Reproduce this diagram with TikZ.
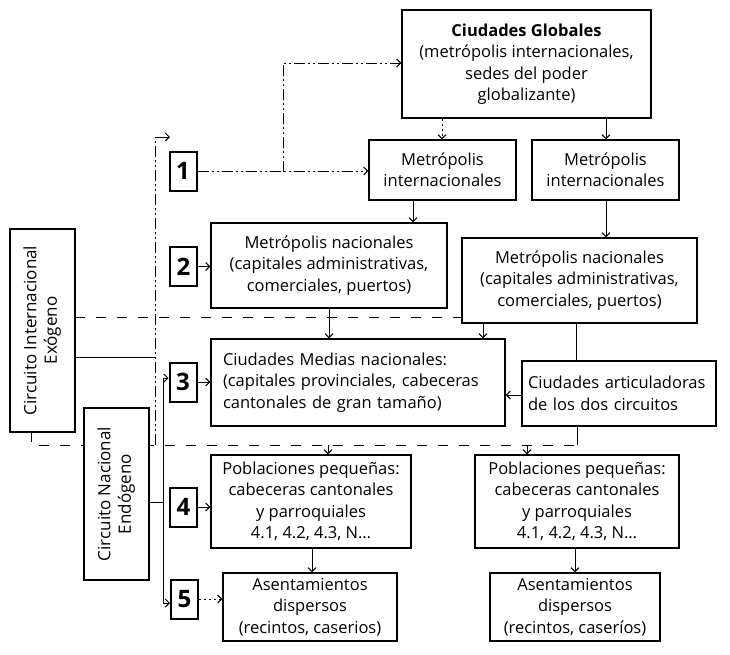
\documentclass[tikz,border=0pt]{standalone}
\usepackage{fontspec}
\setmainfont{Open Sans}
\usetikzlibrary{arrows.meta}
\begin{document}
\begin{tikzpicture}[x=1pt,y=-1pt,
  box/.style={draw, line width=1.3pt, fill=white, inner sep=0pt, align=center,
    font=\fontsize{16.5}{21.5}\selectfont},
  lbox/.style={box, align=left},
  vbox/.style={box, font=\fontsize{17}{20.5}\selectfont},
  numbox/.style={draw, line width=2pt, fill=white, inner sep=0pt,
    font=\fontsize{24}{24}\selectfont\bfseries, minimum width=27pt, minimum height=39pt},
  conn/.style={line width=1pt},
  arr/.style={conn, -{Straight Barb[length=4pt,width=8pt]}},
  dd/.style={dash pattern=on 11pt off 3pt on 2pt off 3pt on 2pt off 3pt},
  dsh/.style={dash pattern=on 10pt off 11pt},
  dot/.style={dash pattern=on 2pt off 3pt}
]
\useasboundingbox (0,0) rectangle (730,654);

% ---------- helper coordinates ----------
\coordinate (vtop) at (155,137);
\coordinate (vtopend) at (170,137);
\coordinate (vbot) at (155,445);
\coordinate (branch) at (283,172);
\coordinate (bend) at (283,63);
\coordinate (caR) at (577,445);
\coordinate (j357) at (155,357);
\coordinate (j502) at (163,502);

% ---------- background connectors (behind boxes) ----------
\draw[conn, dd] (vbot) -- (vtop);
\draw[arr] (vtop) -- (vtopend);
\draw[conn, dsh] (31,432) -- (31,445) -- (caR);
\draw[conn] (caR) -- (577,426);
\draw[conn, dsh] (75,317) -- (462,317);

% ---------- boxes ----------
\node[box, minimum width=249pt, minimum height=108pt] (glob) at (526.5,64)
  {\textbf{Ciudades Globales}\\(metrópolis internacionales,\\sedes del poder\\globalizante)};
\node[box, minimum width=147pt, minimum height=60pt] (mi1) at (442.5,170)
  {Metrópolis\\internacionales};
\node[box, minimum width=147pt, minimum height=60pt] (mi2) at (605.5,170)
  {Metrópolis\\internacionales};
\node[box, minimum width=236pt, minimum height=85pt] (mn1) at (329,265.5)
  {Metrópolis nacionales\\(capitales administrativas,\\comerciales, puertos)};
\node[box, minimum width=235pt, minimum height=85pt] (mn2) at (579.5,280.5)
  {Metrópolis nacionales\\(capitales administrativas,\\comerciales, puertos)};
\node[lbox, minimum width=294pt, minimum height=87pt, text width=270pt] (cm) at (358,382.5)
  {Ciudades Medias nacionales:\\(capitales provinciales, cabeceras\\cantonales de gran tamaño)};
\node[lbox, minimum width=194pt, minimum height=65pt, text width=182pt] (ca) at (619,393.5)
  {Ciudades articuladoras\\de los dos circuitos};
\node[box, minimum width=200pt, minimum height=93pt] (p1) at (311,501.5)
  {Poblaciones pequeñas:\\cabeceras cantonales\\y parroquiales\\4.1, 4.2, 4.3, N\dots};
\node[box, minimum width=204pt, minimum height=93pt] (p2) at (577,501.5)
  {Poblaciones pequeñas:\\cabeceras cantonales\\y parroquiales\\4.1, 4.2, 4.3, N\dots};
\node[box, minimum width=174pt, minimum height=68pt] (a1) at (310,607)
  {Asentamientos\\dispersos\\(recintos, caserios)};
\node[box, minimum width=170pt, minimum height=68pt] (a2) at (575,607)
  {Asentamientos\\dispersos\\(recintos, caseríos)};

\node[vbox, minimum width=65pt, minimum height=203pt] (cie) at (42.5,330.5)
  {\rotatebox{90}{\begin{tabular}{@{}c@{}}Circuito Internacional\\Exógeno\end{tabular}}};
\node[vbox, minimum width=65pt, minimum height=172pt] (cne) at (116.5,494)
  {\rotatebox{90}{\begin{tabular}{@{}c@{}}Circuito Nacional\\Endógeno\end{tabular}}};

\node[numbox] (b1) at (183,171) {1};
\node[numbox] (b2) at (183.5,266.5) {2};
\node[numbox] (b3) at (183,382) {3};
\node[numbox] (b4) at (183.5,507) {4};
\node[numbox] (b5) at (184.5,599) {5};

% ---------- connectors ----------
\draw[arr, dd] (b1.east) -- (mi1.west |- b1.east);
\draw[arr, dd] (branch) -- (bend) -- (glob.west |- bend);
\draw[arr, dot] (glob.south -| 442,0) -- (mi1.north -| 442,0);
\draw[arr] (glob.south -| 606,0) -- (mi2.north -| 606,0);
\draw[arr] (mi1.south -| 413,0) -- (mn1.north -| 413,0);
\draw[arr] (mi2.south -| 606,0) -- (mn2.north -| 606,0);
\draw[arr] (b2.east) -- (mn1.west |- b2.east);
\draw[arr] (mn1.south -| 329,0) -- (cm.north -| 329,0);
\draw[arr] (mn2.south -| 483,0) -- (cm.north -| 483,0);
\draw[conn] (mn2.south -| 576,0) -- (ca.north -| 576,0);
\draw[arr] (ca.west |- 0,395) -- (cm.east |- 0,395);
\draw[arr] (b3.east) -- (cm.west |- b3.east);
\draw[arr] (b4.east) -- (p1.west |- b4.east);
\draw[arr, dot] (b5.east) -- (a1.west |- b5.east);
\draw[arr] (p1.south -| 312,0) -- (a1.north -| 312,0);
\draw[arr] (p2.south -| 575,0) -- (a2.north -| 575,0);
\draw[arr] (328,445) -- (p1.north -| 328,0);
\draw[arr] (527,445) -- (p2.north -| 527,0);

\draw[conn] (cie.east |- j357) -- (j357);
\draw[conn] (cne.east |- j502) -- (j502);
\draw[{Straight Barb[length=4pt,width=8pt]}-{Straight Barb[length=4pt,width=8pt]}, conn]
  (b3.west |- 0,378) -- (163,378) -- (163,603) -- (b5.west |- 0,603);
\end{tikzpicture}
\end{document}
